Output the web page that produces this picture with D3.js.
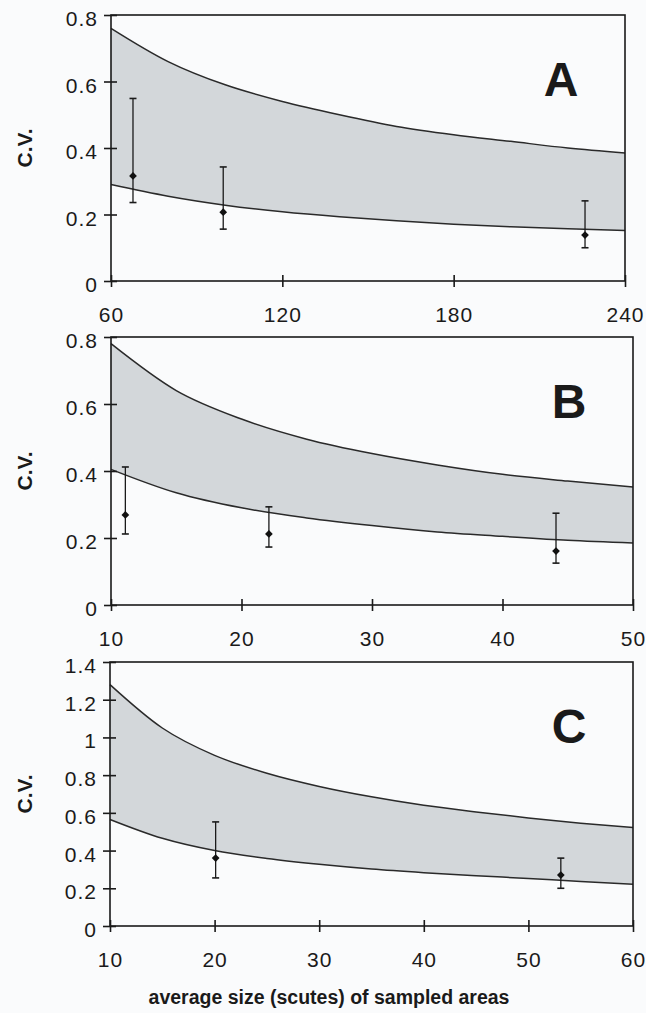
<!DOCTYPE html>
<html>
<head>
<meta charset="utf-8">
<script src="https://cdn.jsdelivr.net/npm/d3@7"></script>
<style>
  body { margin: 0; background: #fafbfc; }
  svg { display: block; }
  text { font-family: "Liberation Sans", Arial, sans-serif; fill: #1a1a1a; }
</style>
</head>
<body>
<svg id="chart" width="646" height="1013"></svg>
<script>
// ---- data ----
const xA = [60, 80, 100, 120, 140, 160, 180, 200, 220, 240]
const upperA = [0.76, 0.66, 0.59, 0.54, 0.50, 0.465, 0.44, 0.42, 0.40, 0.385]
const lowerA = [0.29, 0.255, 0.228, 0.208, 0.193, 0.181, 0.171, 0.163, 0.157, 0.152]
const pointsA = [
  { x: 67.7, mean: 0.316, lo: 0.236, hi: 0.549 },
  { x: 99.3, mean: 0.207, lo: 0.156, hi: 0.343 },
  { x: 226, mean: 0.138, lo: 0.100, hi: 0.241 }
]
const xTicksA = [60, 120, 180, 240]
const yTicksA = [0, 0.2, 0.4, 0.6, 0.8]

const xB = [10, 15, 20, 25, 30, 35, 40, 45, 50]
const upperB = [0.78, 0.64, 0.555, 0.495, 0.452, 0.418, 0.39, 0.37, 0.352]
const lowerB = [0.405, 0.335, 0.29, 0.26, 0.237, 0.218, 0.205, 0.193, 0.185]
const pointsB = [
  { x: 11.1, mean: 0.269, lo: 0.212, hi: 0.412 },
  { x: 22.1, mean: 0.212, lo: 0.173, hi: 0.293 },
  { x: 44.1, mean: 0.161, lo: 0.125, hi: 0.274 }
]
const xTicksB = [10, 20, 30, 40, 50]
const yTicksB = [0, 0.2, 0.4, 0.6, 0.8]

const xC = [10, 15, 20, 25, 30, 35, 40, 45, 50, 55, 60]
const upperC = [1.28, 1.05, 0.905, 0.81, 0.74, 0.685, 0.64, 0.605, 0.573, 0.545, 0.522]
const lowerC = [0.565, 0.465, 0.40, 0.358, 0.327, 0.302, 0.283, 0.267, 0.252, 0.236, 0.222]
const pointsC = [
  { x: 20.1, mean: 0.36, lo: 0.255, hi: 0.552 },
  { x: 53.1, mean: 0.27, lo: 0.20, hi: 0.36 }
]
const xTicksC = [10, 20, 30, 40, 50, 60]
const yTicksC = [0, 0.2, 0.4, 0.6, 0.8, 1, 1.2, 1.4]

const panelLabels = ['A', 'B', 'C']
const yTitle = 'C.V.'
const xTitle = 'average size (scutes) of sampled areas'

// ---- layout ----
const svg = d3.select('#chart')
const boxes = [
  { left: 111, right: 625, top: 15, bottom: 281 },
  { left: 111, right: 633, top: 337, bottom: 605 },
  { left: 110, right: 633, top: 662, bottom: 926 }
]

function drawPanel(i, xs, upper, lower, points, xTicks, yTicks) {
  const b = boxes[i]
  const x = d3.scaleLinear().domain([xTicks[0], xTicks[xTicks.length - 1]]).range([b.left, b.right])
  const y = d3.scaleLinear().domain([0, yTicks[yTicks.length - 1]]).range([b.bottom, b.top])
  const g = svg.append('g')
  const band = xs.map((d, j) => ({ x: d, hi: upper[j], lo: lower[j] }))

  g.append('path')
    .datum(band)
    .attr('fill', '#d3d7da')
    .attr('d', d3.area().curve(d3.curveMonotoneX)
      .x(d => x(d.x)).y0(d => y(d.lo)).y1(d => y(d.hi)))

  const line = d3.line().curve(d3.curveMonotoneX).x(d => x(d.x))
  g.append('path').datum(band).attr('fill', 'none').attr('stroke', '#2a2a2a').attr('stroke-width', 1.5)
    .attr('d', line.y(d => y(d.hi)))
  g.append('path').datum(band).attr('fill', 'none').attr('stroke', '#2a2a2a').attr('stroke-width', 1.5)
    .attr('d', line.y(d => y(d.lo)))

  // frame
  g.append('rect')
    .attr('x', b.left).attr('y', b.top)
    .attr('width', b.right - b.left).attr('height', b.bottom - b.top)
    .attr('fill', 'none').attr('stroke', '#1a1a1a').attr('stroke-width', 1.6)

  // error bars
  const eb = g.selectAll('.eb').data(points).enter().append('g')
  eb.append('line')
    .attr('x1', d => x(d.x)).attr('x2', d => x(d.x))
    .attr('y1', d => y(d.lo)).attr('y2', d => y(d.hi))
    .attr('stroke', '#1a1a1a').attr('stroke-width', 1.3)
  ;['lo', 'hi'].forEach(k => {
    eb.append('line')
      .attr('x1', d => x(d.x) - 3.5).attr('x2', d => x(d.x) + 3.5)
      .attr('y1', d => y(d[k])).attr('y2', d => y(d[k]))
      .attr('stroke', '#1a1a1a').attr('stroke-width', 1.6)
  })
  eb.append('path')
    .attr('d', d3.symbol(d3.symbolSquare, 30))
    .attr('transform', d => 'translate(' + x(d.x) + ',' + y(d.mean) + ') rotate(45)')
    .attr('fill', '#111')

  // axes
  const yAxis = g.append('g')
    .attr('transform', 'translate(' + b.left + ',0)')
    .call(d3.axisLeft(y).tickValues(yTicks).tickSize(7).tickPadding(6).tickFormat(d3.format('')))
  const xAxis = g.append('g')
    .attr('transform', 'translate(0,' + b.bottom + ')')
    .call(d3.axisBottom(x).tickValues(xTicks).tickSize(6).tickPadding(20))
  ;[yAxis, xAxis].forEach(a => {
    a.select('.domain').remove()
    a.selectAll('line').attr('stroke', '#1a1a1a').attr('stroke-width', 1.6)
    a.selectAll('text').attr('font-size', 21).attr('fill', '#2a2a2a')
      .attr('letter-spacing', 1)
      .attr('font-family', '"Liberation Sans", Arial, sans-serif')
  })
  yAxis.selectAll('line').attr('x2', -7).attr('x1', 6)
  yAxis.selectAll('text').attr('dy', '0.5em')
  xAxis.selectAll('line').attr('y1', -6).attr('y2', 6)

  g.append('text')
    .attr('transform', 'translate(32,' + (b.top + b.bottom) / 2 + ') rotate(-90)')
    .attr('text-anchor', 'middle')
    .attr('font-size', 21).attr('font-weight', 'bold')
    .text(yTitle)

  g.append('text')
    .attr('x', b.right - 64).attr('y', b.top + 81)
    .attr('text-anchor', 'middle')
    .attr('font-size', 48).attr('font-weight', 'bold')
    .text(panelLabels[i])
}

drawPanel(0, xA, upperA, lowerA, pointsA, xTicksA, yTicksA)
drawPanel(1, xB, upperB, lowerB, pointsB, xTicksB, yTicksB)
drawPanel(2, xC, upperC, lowerC, pointsC, xTicksC, yTicksC)

svg.append('text')
  .attr('x', 329).attr('y', 1004)
  .attr('text-anchor', 'middle')
  .attr('font-size', 19.5).attr('font-weight', 'bold')
  .text(xTitle)
</script>
</body>
</html>
